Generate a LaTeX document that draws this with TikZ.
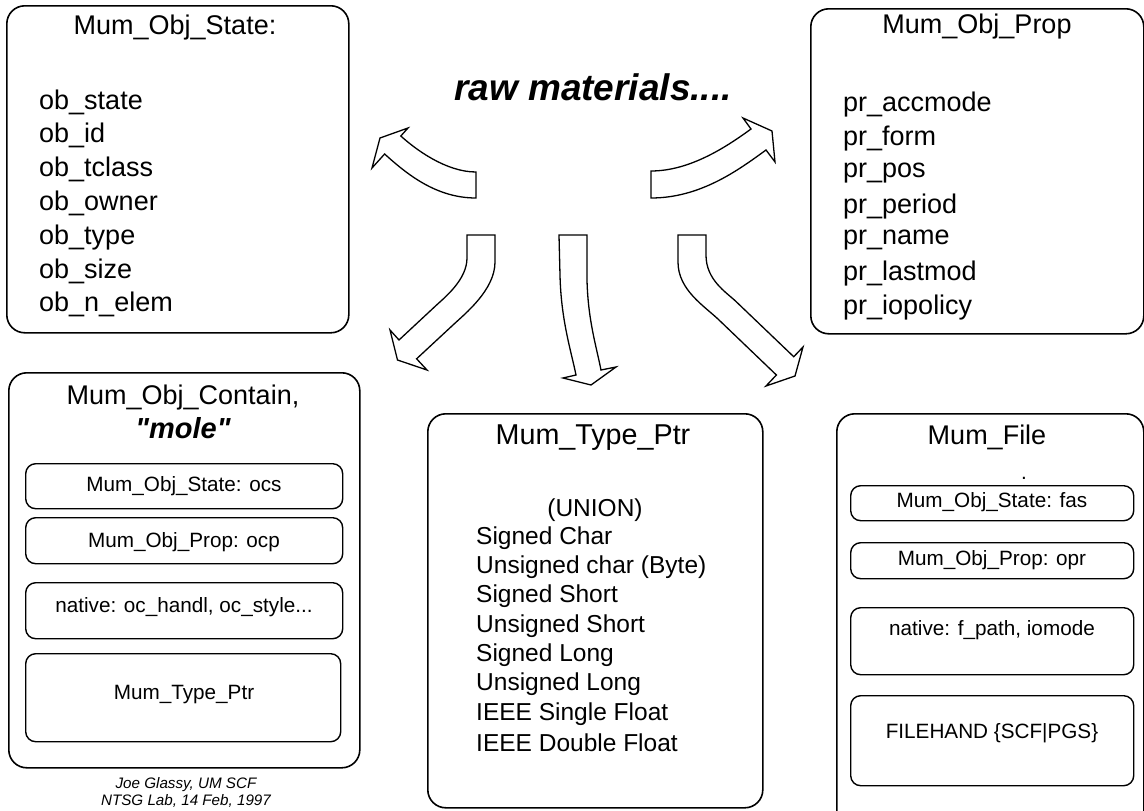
\documentclass[tikz,border=0pt]{standalone}
\usepackage{fontspec}
\setmainfont{Liberation Sans}
\tikzset{every picture/.style={x=1pt,y=-1pt}}
\tikzset{bigbox/.style={draw,rounded corners=18,line width=1.6,inner sep=0,anchor=north west}}
\tikzset{subbox/.style={draw,rounded corners=10,line width=1.4,inner sep=0,anchor=north west}}
\tikzset{title/.style={font=\fontsize{27}{32}\selectfont}}
\tikzset{entry/.style={font=\fontsize{27}{32}\selectfont,anchor=west,inner sep=0}}
\tikzset{typeentry/.style={font=\fontsize{24.5}{29}\selectfont,anchor=west,inner sep=0}}
\tikzset{subtext/.style={font=\fontsize{20.7}{25}\selectfont}}
\tikzset{credit/.style={font=\fontsize{15.2}{18}\selectfont\itshape,inner sep=0}}
\tikzset{blockarrow/.style={draw,line width=1.3,fill=white}}
\begin{document}
\begin{tikzpicture}
\fill [white] (0,0) rectangle (1144,811);
\useasboundingbox (0,0) rectangle (1144,811);
\clip (0,0) rectangle (1144,811);

\node [bigbox,minimum width=342,minimum height=327] (state) at (6,5) {};
\node [title] (statet) at (175,28) {Mum\_Obj\_State:};
\node [entry] (st1) at (39,102) {ob\_state};
\node [entry] (st2) at (39,135.8) {ob\_id};
\node [entry] (st3) at (39,169.6) {ob\_tclass};
\node [entry] (st4) at (39,203.4) {ob\_owner};
\node [entry] (st5) at (39,237.2) {ob\_type};
\node [entry] (st6) at (39,271) {ob\_size};
\node [entry] (st7) at (39,304.8) {ob\_n\_elem};

\node [bigbox,minimum width=333,minimum height=325] (prop) at (810,8) {};
\node [title] (propt) at (977,27) {Mum\_Obj\_Prop};
\node [entry] (pr1) at (843,105) {pr\_accmode};
\node [entry] (pr2) at (843,138.8) {pr\_form};
\node [entry] (pr3) at (843,172.6) {pr\_pos};
\node [entry] (pr4) at (843,206.4) {pr\_period};
\node [entry] (pr5) at (843,240.2) {pr\_name};
\node [entry] (pr6) at (843,274) {pr\_lastmod};
\node [entry] (pr7) at (843,307.8) {pr\_iopolicy};

\node [font=\fontsize{37}{44}\selectfont\bfseries\itshape,anchor=base] (raw) at (593,100) {raw materials....};

\draw [blockarrow] (476,172) .. controls (446,172) and (415.6,149.4) .. (400.8,136)
  -- (408,128) -- (380,138) -- (372,168) -- (384.6,154)
  .. controls (406.8,174) and (436,198) .. (476,198) -- cycle;
\draw [blockarrow] (651,171) .. controls (690,171) and (726.7,146.7) .. (751,129)
  -- (743,118) -- (772,131) -- (775,162) -- (766,150)
  .. controls (737.6,170.7) and (700,198) .. (651,198) -- cycle;
\draw [blockarrow] (467,235) -- (467,258) .. controls (467,280) and (444,298) .. (435.5,306)
  -- (399,340) -- (390,330) -- (397.5,360) -- (427,370) -- (416.6,358.8)
  -- (453,325) .. controls (464.7,314) and (495,290) .. (495,262) -- (495,235) -- cycle;
\draw [blockarrow] (559,235) -- (560,275) .. controls (561,320) and (571,350.5) .. (576,375)
  -- (563,378) -- (591,385) -- (616,367) -- (601,370)
  .. controls (596,345) and (588,320) .. (587,280) -- (587,235) -- cycle;
\draw [blockarrow] (678,235) -- (706,235) -- (706,255) .. controls (706,280) and (726,292) .. (736,301.5)
  -- (793.75,356.75) -- (803,347) -- (795,376) -- (766,386) -- (776.4,375)
  -- (718.8,319.8) .. controls (704.4,306) and (678,290) .. (678,262) -- cycle;

\node [bigbox,minimum width=351,minimum height=395] (contain) at (8,372) {};
\node [title] (containt) at (183,398) {Mum\_Obj\_Contain,};
\node [font=\fontsize{29}{34}\selectfont\bfseries\itshape] (mole) at (183,428) {\textquotedbl mole\textquotedbl};
\node [subbox,minimum width=317,minimum height=45] (cs) at (25,463) {};
\node [subtext] (cst) at (184,486) {Mum\_Obj\_State: ocs};
\node [subbox,minimum width=317,minimum height=46] (cp) at (25,517) {};
\node [subtext] (cpt) at (184,542) {Mum\_Obj\_Prop: ocp};
\node [subbox,minimum width=317,minimum height=56] (cn) at (25,582) {};
\node [subtext] (cnt) at (184,607) {native: oc\_handl, oc\_style...};
\node [subbox,minimum width=315,minimum height=88] (ct) at (25,653) {};
\node [subtext] (ctt) at (184,695) {Mum\_Type\_Ptr};

\node [credit] (who) at (186,785) {Joe Glassy, UM SCF};
\node [credit] (when) at (186,801) {NTSG Lab, 14 Feb, 1997};

\node [bigbox,minimum width=335,minimum height=394] (typeptr) at (427,413) {};
\node [font=\fontsize{28.7}{34}\selectfont] (typeptrt) at (593,438) {Mum\_Type\_Ptr};
\node [font=\fontsize{24.5}{29}\selectfont] (union) at (595,510) {(UNION)};
\node [typeentry] (ty1) at (476,538) {Signed Char};
\node [typeentry] (ty2) at (476,567.3) {Unsigned char (Byte)};
\node [typeentry] (ty3) at (476,596.6) {Signed Short};
\node [typeentry] (ty4) at (476,625.9) {Unsigned Short};
\node [typeentry] (ty5) at (476,655.2) {Signed Long};
\node [typeentry] (ty6) at (476,684.5) {Unsigned Long};
\node [typeentry] (ty7) at (476,713.8) {IEEE Single Float};
\node [typeentry] (ty8) at (476,743.1) {IEEE Double Float};

\node [bigbox,minimum width=307,minimum height=420] (file) at (836,413) {};
\node [title] (filet) at (987,437) {Mum\_File};
\node [subtext,anchor=base] (dot) at (1024,479) {.};
\node [subbox,minimum width=283,minimum height=35] (fs) at (850,485) {};
\node [subtext] (fst) at (992,502) {Mum\_Obj\_State: fas};
\node [subbox,minimum width=283,minimum height=36] (fp) at (850,542) {};
\node [subtext] (fpt) at (992,560) {Mum\_Obj\_Prop: opr};
\node [subbox,minimum width=283,minimum height=67] (fn) at (850,607) {};
\node [subtext] (fnt) at (992,630) {native: f\_path, iomode};
\node [subbox,minimum width=283,minimum height=90] (fh) at (850,695) {};
\node [subtext] (fht) at (992,733) {FILEHAND \{SCF|PGS\}};
\end{tikzpicture}
\end{document}
